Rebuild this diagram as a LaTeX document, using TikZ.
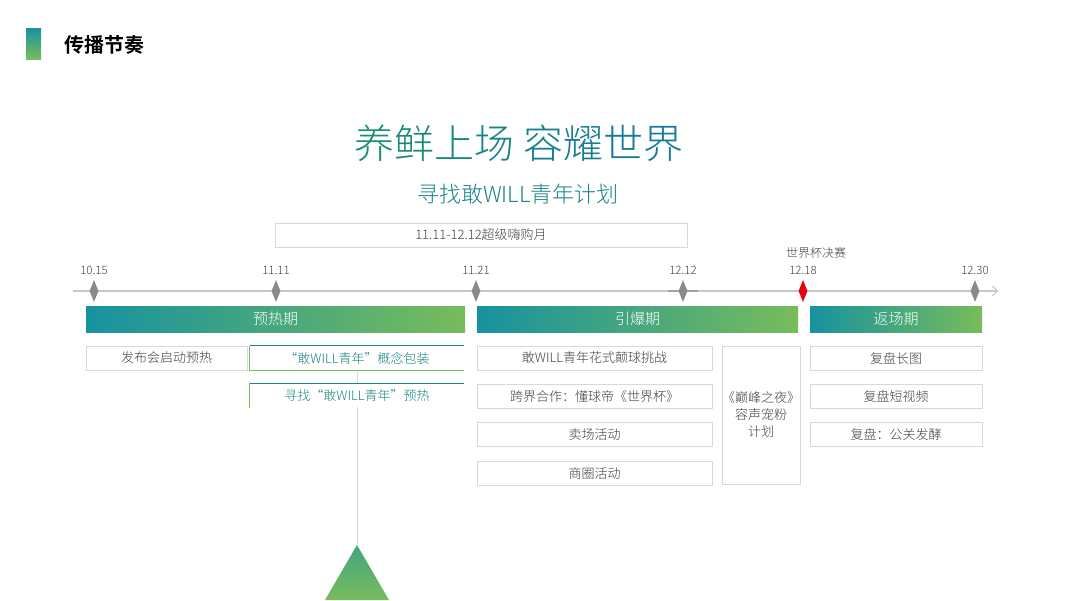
\documentclass[tikz,border=0pt]{standalone}
\usepackage{fontspec}
\setmainfont{Noto Sans CJK SC}[UprightFont=* Light, BoldFont=* Bold]
\usepackage{xcolor}
\definecolor{barteal}{HTML}{17929F}
\definecolor{bargreen}{HTML}{78BC5C}
\definecolor{titlegreen}{HTML}{1B8C72}
\definecolor{titleblue}{HTML}{15789E}
\definecolor{inkgray}{HTML}{404040}
\definecolor{rulegray}{HTML}{C8C8C8}
\definecolor{boxgray}{HTML}{D8D8D8}
\definecolor{markgray}{HTML}{8A8A8A}
\definecolor{alertred}{HTML}{E8000E}
\usepackage{tikz}
\usetikzlibrary{positioning,arrows.meta,shapes.geometric}

\begin{document}
\begin{tikzpicture}[x=1pt, y=-1pt,
    every node/.style={inner sep=0pt},
    phasebar/.style={minimum height=26pt, left color=barteal, right color=bargreen,
                     text=white, font=\fontsize{15}{15}\selectfont},
    itembox/.style={draw=boxgray, line width=0.9pt, minimum height=24pt,
                    text=inkgray, font=\fontsize{13}{13}\selectfont},
    accentbox/.style={minimum height=24pt, text=titlegreen!60!titleblue,
                      font=\fontsize{13}{13}\selectfont},
    datelbl/.style={font=\fontsize{11.5}{11.5}\selectfont, text=inkgray},
    milestone/.style={diamond, fill=markgray, minimum width=9pt, minimum height=22pt}]
  % page
  \fill[white] (0,0) rectangle (1066,600);
  \useasboundingbox (0,0) rectangle (1066,600);
  % heading
  \shade[top color=barteal, bottom color=bargreen] (26,28) rectangle (41,59);
  \node[anchor=west, font=\fontsize{20}{20}\selectfont\bfseries] (heading) at (64,45) {传播节奏};
  \node[font=\fontsize{40}{40}\selectfont] (slogan) at (519,143)
    {{\color{titlegreen}养}{\color{titleblue!13!titlegreen}鲜}{\color{titleblue!25!titlegreen}上}{\color{titleblue!38!titlegreen}场}
     {\color{titleblue!60!titlegreen}容}{\color{titleblue!73!titlegreen}耀}{\color{titleblue!87!titlegreen}世}{\color{titleblue}界}};
  \node[text=titlegreen!50!titleblue, font=\fontsize{22}{22}\selectfont] (plan) at (518,194) {寻找敢WILL青年计划};
  \node[itembox, minimum width=412pt] (shopping) at (481,235) {11.11-12.12超级嗨购月};
  % timeline
  \coordinate (axisstart) at (73,291);
  \coordinate (axisend) at (998,291);
  \draw[rulegray, line width=1.5pt, -{Straight Barb[length=5pt, width=10pt, line width=1pt]}]
    (axisstart) -- (axisend);
  \draw[markgray!80, line width=1.5pt] (668,291) -- (698,291);
  \foreach \x/\d/\nm in {94/10.15/a, 276/11.11/b, 476/11.21/c, 683/12.12/d, 975/12.30/f} {
    \node[milestone] (ms\nm) at (\x,291) {};
    \node[datelbl, above=5pt of ms\nm] (date\nm) {\d};
  }
  \node[milestone, fill=alertred] (mse) at (803,291) {};
  \node[datelbl, above=5pt of mse] (datee) {12.18};
  \node[datelbl, font=\fontsize{12}{12}\selectfont, above=7pt of datee, xshift=13pt] (final) {世界杯决赛};
  % phases
  \node[phasebar, minimum width=379pt] (warmup) at (275.5,319) {预热期};
  \node[phasebar, minimum width=321pt] (burst) at (637.5,319) {引爆期};
  \node[phasebar, minimum width=172pt] (recall) at (896,319) {返场期};
  % warm-up items
  \coordinate (apex) at (357,545);
  \node[itembox, minimum width=161pt] (launch) at (166.5,358) {发布会启动预热};
  \node[accentbox, minimum width=214pt] (concept) at (357,358) {“敢WILL青年”概念包装};
  \draw[rulegray!70, line width=1pt] (concept.south) -- (apex);
  \node[accentbox, fill=white, minimum width=214pt, below=13pt of concept] (seek) {寻找“敢WILL青年”预热};
  \draw[titlegreen, line width=0.9pt] (concept.north east) -- (concept.north west);
  \draw[bargreen, line width=0.9pt] (concept.north west) -- (concept.south west) -- (concept.south east);
  \draw[titlegreen, line width=0.9pt] (seek.north east) -- (seek.north west);
  \draw[bargreen, line width=0.9pt] (seek.north west) -- (seek.south west);
  \shade[top color=barteal!55!bargreen, bottom color=bargreen] (apex) -- (325,600) -- (389,600) -- cycle;
  % burst items
  \node[itembox, minimum width=235pt] (dare) at (594.5,358) {敢WILL青年花式颠球挑战};
  \node[itembox, minimum width=235pt, below=13.5pt of dare] (crossover) {跨界合作：懂球帝《世界杯》};
  \node[itembox, minimum width=235pt, below=13.5pt of crossover] (store) {卖场活动};
  \node[itembox, minimum width=235pt, below=13.5pt of store] (mall) {商圈活动};
  \node[itembox, minimum width=76pt, minimum height=138pt, align=center,
        font=\fontsize{13}{17}\selectfont] (peak) at (761,415) {《巅峰之夜》\\容声宠粉\\计划};
  % recall items
  \node[itembox, minimum width=172pt] (longimg) at (896,358) {复盘长图};
  \node[itembox, minimum width=172pt, below=13.5pt of longimg] (shortvid) {复盘短视频};
  \node[itembox, minimum width=172pt, below=13.5pt of shortvid] (pr) {复盘：公关发酵};
\end{tikzpicture}
\end{document}
